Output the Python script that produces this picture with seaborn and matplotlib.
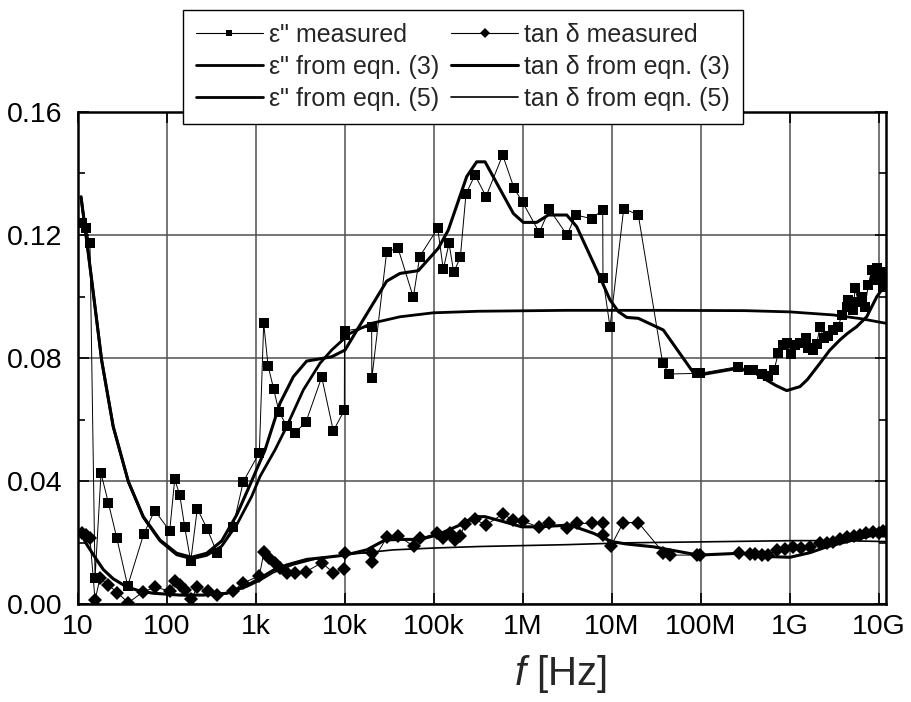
import numpy as np
import matplotlib
matplotlib.use("Agg")
import matplotlib.pyplot as plt
from matplotlib.lines import Line2D
from matplotlib.ticker import FixedLocator, NullFormatter, LogLocator
import seaborn as sns

# ---- measured loss factor eps'' (log10 of frequency in Hz, value) ----
eps_meas_logf = [1.046, 1.091, 1.139, 1.196, 1.263, 1.345, 1.439, 1.563, 1.742, 1.866,
                 2.035, 2.091, 2.147, 2.203, 2.271, 2.345, 2.458, 2.566, 2.746, 2.862,
                 3.042, 3.091, 3.140, 3.203, 3.263, 3.349, 3.443, 3.566, 3.743, 3.873,
                 3.997, 3.999, 4.001, 4.304, 4.306, 4.473, 4.600, 4.772, 4.844, 5.046,
                 5.109, 5.173, 5.226, 5.300, 5.364, 5.465, 5.589, 5.776, 5.903, 6.001,
                 6.188, 6.300, 6.499, 6.597, 6.776, 6.900, 6.903, 6.982, 7.136, 7.300,
                 7.574, 7.648, 7.963, 7.990, 8.424, 8.547, 8.592, 8.686, 8.761, 8.825,
                 8.873, 8.929, 8.967, 9.012, 9.061, 9.117, 9.181, 9.210, 9.266, 9.304,
                 9.341, 9.387, 9.435, 9.491, 9.547, 9.585, 9.642, 9.660, 9.716, 9.735,
                 9.772, 9.810, 9.847, 9.884, 9.922, 9.960, 9.979, 10.016, 10.053, 10.065,
                 10.078]
eps_meas = [0.1238, 0.1222, 0.1173, 0.0084, 0.0425, 0.0330, 0.0216, 0.0059, 0.0227, 0.0304,
            0.0238, 0.0405, 0.0356, 0.0251, 0.0139, 0.0310, 0.0243, 0.0167, 0.0251, 0.0398,
            0.0492, 0.0913, 0.0775, 0.0699, 0.0625, 0.0579, 0.0557, 0.0592, 0.0738, 0.0563,
            0.0630, 0.0875, 0.0888, 0.0902, 0.0734, 0.1146, 0.1157, 0.0998, 0.1130, 0.1222,
            0.1088, 0.1173, 0.1079, 0.1127, 0.1334, 0.1395, 0.1325, 0.1460, 0.1353, 0.1306,
            0.1208, 0.1284, 0.1200, 0.1265, 0.1253, 0.1282, 0.1059, 0.0900, 0.1286, 0.1265,
            0.0783, 0.0748, 0.0750, 0.0750, 0.0772, 0.0761, 0.0761, 0.0748, 0.0741, 0.0761,
            0.0815, 0.0842, 0.0848, 0.0813, 0.0842, 0.0848, 0.0864, 0.0832, 0.0826, 0.0846,
            0.0900, 0.0864, 0.0872, 0.0891, 0.0902, 0.0940, 0.0967, 0.0989, 0.0956, 0.1027,
            0.0983, 0.0999, 0.0967, 0.1037, 0.1086, 0.1054, 0.1092, 0.1064, 0.1032, 0.1081,
            0.1048]

# ---- measured tan delta ----
tan_meas_logf = [1.046, 1.094, 1.139, 1.196, 1.252, 1.345, 1.446, 1.570, 1.738, 1.870,
                 2.038, 2.094, 2.150, 2.207, 2.274, 2.345, 2.465, 2.570, 2.750, 2.862,
                 3.042, 3.094, 3.154, 3.218, 3.274, 3.349, 3.443, 3.566, 3.743, 3.873,
                 3.997, 4.005, 4.304, 4.306, 4.480, 4.603, 4.780, 4.847, 5.035, 5.109,
                 5.184, 5.240, 5.297, 5.353, 5.465, 5.589, 5.776, 5.896, 6.001, 6.188,
                 6.300, 6.496, 6.608, 6.783, 6.900, 6.907, 6.990, 7.131, 7.300, 7.581,
                 7.656, 7.956, 7.993, 8.435, 8.555, 8.611, 8.686, 8.761, 8.855, 8.950,
                 9.040, 9.130, 9.230, 9.340, 9.420, 9.490, 9.570, 9.640, 9.720, 9.790,
                 9.860, 9.940, 10.000, 10.050, 10.078]
tan_meas = [0.0230, 0.0224, 0.0214, 0.0013, 0.0084, 0.0062, 0.0037, 0.0004, 0.0040, 0.0054,
            0.0043, 0.0076, 0.0062, 0.0046, 0.0015, 0.0054, 0.0043, 0.0029, 0.0043, 0.0069,
            0.0091, 0.0170, 0.0149, 0.0132, 0.0116, 0.0102, 0.0102, 0.0105, 0.0134, 0.0102,
            0.0114, 0.0165, 0.0165, 0.0136, 0.0219, 0.0221, 0.0187, 0.0214, 0.0230, 0.0214,
            0.0230, 0.0208, 0.0221, 0.0259, 0.0275, 0.0257, 0.0292, 0.0273, 0.0270, 0.0249,
            0.0262, 0.0246, 0.0262, 0.0262, 0.0262, 0.0224, 0.0187, 0.0265, 0.0265, 0.0167,
            0.0159, 0.0159, 0.0159, 0.0165, 0.0163, 0.0163, 0.0159, 0.0159, 0.0176, 0.0180,
            0.0186, 0.0183, 0.0186, 0.0197, 0.0200, 0.0203, 0.0210, 0.0219, 0.0220, 0.0224,
            0.0230, 0.0235, 0.0232, 0.0238, 0.0235]

# ---- eps'' from eqn. (3) ----
eps_eq3_logf = [1.038, 1.090, 1.177, 1.270, 1.400, 1.570, 1.738, 1.926, 2.113, 2.282,
                2.450, 2.619, 2.788, 2.956, 3.106, 3.274, 3.424, 3.574, 3.855, 4.005,
                4.173, 4.473, 4.622, 4.828, 5.053, 5.165, 5.372, 5.484, 5.578, 5.896,
                6.008, 6.158, 6.289, 6.496, 6.608, 6.833, 6.982, 7.076, 7.170, 7.300,
                7.581, 7.937, 8.050, 8.406, 8.592, 8.743, 8.850, 8.967, 9.117, 9.200,
                9.341, 9.450, 9.566, 9.650, 9.754, 9.866, 9.979, 10.080]
eps_eq3 = [0.1324, 0.1210, 0.1010, 0.0793, 0.0577, 0.0398, 0.0284, 0.0208, 0.0165, 0.0152,
           0.0165, 0.0205, 0.0290, 0.0400, 0.0501, 0.0653, 0.0739, 0.0790, 0.0804, 0.0826,
           0.0907, 0.1050, 0.1075, 0.1084, 0.1157, 0.1216, 0.1390, 0.1438, 0.1438, 0.1270,
           0.1241, 0.1241, 0.1265, 0.1265, 0.1227, 0.1086, 0.0989, 0.0951, 0.0932, 0.0929,
           0.0891, 0.0745, 0.0748, 0.0766, 0.0755, 0.0728, 0.0710, 0.0694, 0.0707, 0.0730,
           0.0783, 0.0825, 0.0859, 0.0880, 0.0902, 0.0934, 0.0999, 0.1040]

# ---- eps'' from eqn. (5) ----
eps_eq5_logf = [1.038, 1.090, 1.177, 1.270, 1.400, 1.570, 1.738, 1.926, 2.113, 2.282,
                2.450, 2.619, 2.788, 2.956, 3.050, 3.218, 3.349, 3.536, 3.724, 3.855,
                4.060, 4.304, 4.622, 4.997, 5.500, 6.500, 7.500, 8.500, 9.000, 9.490,
                9.800, 10.080]
eps_eq5 = [0.1324, 0.1210, 0.1010, 0.0793, 0.0577, 0.0398, 0.0282, 0.0205, 0.0160, 0.0147,
           0.0158, 0.0188, 0.0258, 0.0350, 0.0415, 0.0501, 0.0577, 0.0696, 0.0783, 0.0826,
           0.0880, 0.0913, 0.0934, 0.0947, 0.0952, 0.0955, 0.0955, 0.0954, 0.0950, 0.0940,
           0.0928, 0.0913]

# ---- tan delta from eqn. (3) ----
tan_eq3_logf = [1.027, 1.100, 1.200, 1.289, 1.400, 1.550, 1.700, 1.850, 2.150, 2.410,
                2.675, 2.900, 3.050, 3.200, 3.350, 3.574, 3.800, 4.005, 4.248, 4.454,
                4.620, 4.847, 5.035, 5.297, 5.465, 5.578, 5.784, 5.990, 6.195, 6.530,
                6.795, 7.000, 7.170, 7.470, 7.974, 8.443, 8.780, 9.005, 9.230, 9.417,
                9.716, 9.940, 10.080]
tan_eq3 = [0.0235, 0.0195, 0.0150, 0.0112, 0.0082, 0.0056, 0.0042, 0.0035, 0.0029, 0.0029,
           0.0035, 0.0060, 0.0084, 0.0110, 0.0127, 0.0145, 0.0152, 0.0159, 0.0176, 0.0208,
           0.0210, 0.0210, 0.0224, 0.0257, 0.0284, 0.0284, 0.0268, 0.0251, 0.0251, 0.0257,
           0.0230, 0.0203, 0.0195, 0.0186, 0.0159, 0.0165, 0.0154, 0.0152, 0.0167, 0.0186,
           0.0208, 0.0224, 0.0235]

# ---- tan delta from eqn. (5) ----
tan_eq5_logf = [1.027, 1.100, 1.200, 1.289, 1.400, 1.550, 1.700, 1.850, 2.150, 2.410,
                2.675, 2.900, 3.050, 3.200, 3.420, 3.670, 4.005, 4.547, 5.000, 5.520,
                6.500, 7.170, 8.000, 9.040, 9.600, 10.080]
tan_eq5 = [0.0235, 0.0195, 0.0150, 0.0112, 0.0082, 0.0056, 0.0042, 0.0035, 0.0029, 0.0029,
           0.0033, 0.0055, 0.0076, 0.0102, 0.0127, 0.0146, 0.0160, 0.0176, 0.0182, 0.0187,
           0.0193, 0.0199, 0.0202, 0.0206, 0.0206, 0.0203]

x_tick_labels = ["10", "100", "1k", "10k", "100k", "1M", "10M", "100M", "1G", "10G"]
y_ticks = [0.00, 0.04, 0.08, 0.12, 0.16]


def hz(logf):
    return 10.0 ** np.asarray(logf)


sns.set_theme(style="ticks")
plt.rcParams["font.family"] = ["Liberation Sans", "DejaVu Sans"]
plt.rcParams["mathtext.fontset"] = "custom"
plt.rcParams["mathtext.it"] = "Liberation Sans:italic"
plt.rcParams["mathtext.rm"] = "Liberation Sans"

fig = plt.figure(figsize=(9.11, 7.02), dpi=100)
ax = fig.add_axes([77.6 / 911, 98 / 702, (886 - 77.6) / 911, (604 - 112) / 702])
ax.set_xscale("log")

# model curves
sns.lineplot(x=hz(eps_eq5_logf), y=eps_eq5, ax=ax, sort=False, estimator=None,
             color="black", lw=2.0, zorder=3)
sns.lineplot(x=hz(eps_eq3_logf), y=eps_eq3, ax=ax, sort=False, estimator=None,
             color="black", lw=2.2, zorder=3)
sns.lineplot(x=hz(tan_eq5_logf), y=tan_eq5, ax=ax, sort=False, estimator=None,
             color="black", lw=1.2, zorder=3)
sns.lineplot(x=hz(tan_eq3_logf), y=tan_eq3, ax=ax, sort=False, estimator=None,
             color="black", lw=2.2, zorder=3)

# measured data
sns.lineplot(x=hz(eps_meas_logf), y=eps_meas, ax=ax, sort=False, estimator=None,
             color="black", lw=0.7, marker="s", markersize=7, markeredgewidth=0,
             zorder=4)
sns.lineplot(x=hz(tan_meas_logf), y=tan_meas, ax=ax, sort=False, estimator=None,
             color="black", lw=0.7, marker="D", markersize=7, markeredgewidth=0,
             zorder=4)

ax.set_xlim(10, 10 ** 10.083)
ax.set_ylim(0, 0.16)
ax.xaxis.set_major_locator(FixedLocator([10.0 ** k for k in range(1, 11)]))
ax.set_xticklabels(x_tick_labels)
ax.xaxis.set_minor_locator(LogLocator(base=10, subs=np.arange(2, 10)))
ax.xaxis.set_minor_formatter(NullFormatter())
ax.set_yticks(y_ticks)
ax.set_yticklabels([f"{v:.2f}" for v in y_ticks])
ax.yaxis.set_minor_locator(FixedLocator([0.02, 0.06, 0.10, 0.14]))

ax.grid(which="major", color="#505050", lw=1.1)
ax.tick_params(which="both", direction="in", top=True, right=True, colors="black",
               labelsize=20.5)
ax.tick_params(which="major", length=8, width=1.2)
ax.tick_params(which="minor", length=5, width=1.2)
ax.tick_params(axis="x", which="major", pad=7)
ax.tick_params(axis="y", which="major", pad=11)
for sp in ax.spines.values():
    sp.set_linewidth(1.8)
    sp.set_color("black")

ax.set_xlabel("$f$ [Hz]", fontsize=29)
ax.xaxis.set_label_coords((560 - 77.6) / (886 - 77.6), -0.1)
ax.set_ylabel("")

handles = [
    Line2D([], [], color="black", lw=0.8, marker="s", markersize=5, markeredgewidth=0),
    Line2D([], [], color="black", lw=2.0),
    Line2D([], [], color="black", lw=2.0),
    Line2D([], [], color="black", lw=0.8, marker="D", markersize=5, markeredgewidth=0),
    Line2D([], [], color="black", lw=2.2),
    Line2D([], [], color="black", lw=1.2),
]
labels = ['\u03b5" measured', '\u03b5" from eqn. (3)', '\u03b5" from eqn. (5)',
          "tan \u03b4 measured", "tan \u03b4 from eqn. (3)", "tan \u03b4 from eqn. (5)"]
leg = fig.legend(handles, labels, ncol=2, loc="upper left",
                 bbox_to_anchor=(183 / 911, 1 - 10 / 702), bbox_transform=fig.transFigure,
                 borderaxespad=0.0,
                 frameon=True, fancybox=False, framealpha=1, edgecolor="black",
                 fontsize=18, handlelength=2.7, handletextpad=0.25, columnspacing=0.45,
                 borderpad=0.5, labelspacing=0.33)
leg.get_frame().set_linewidth(1.0)

fig.savefig("out.png", dpi=100)
